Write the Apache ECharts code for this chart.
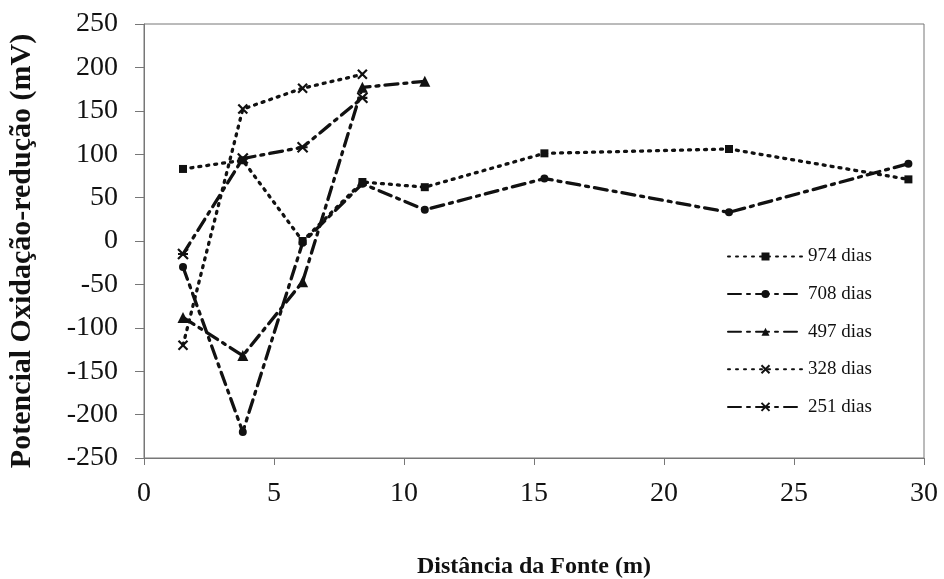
<!DOCTYPE html>
<html>
<head>
<meta charset="utf-8">
<script src="https://cdn.jsdelivr.net/npm/echarts@6/dist/echarts.min.js"></script>
<style>
  html, body { margin: 0; padding: 0; background: #fff; }
  #chart { width: 944px; height: 579px; }
</style>
</head>
<body>
<div id="chart"></div>
<script>
// Distance from the source (m) for each sampling well
const distances = [1.5, 3.8, 6.1, 8.4, 10.8, 15.4, 22.5, 29.4];

// Redox potential (mV) per campaign
const d974 = [83, 93, 0, 68, 62, 101, 106, 71];
const d708 = [-30, -220, -2, 66, 36, 72, 33, 89];
const d497 = [-88, -132, -47, 177, 184];
const d328 = [-120, 152, 176, 192];
const d251 = [-15, 95, 108, 165];

const seriesNames = ['974 dias', '708 dias', '497 dias', '328 dias', '251 dias'];
const yTicks = [-250, 250, 50];
const xTicks = [0, 30, 5];

const ink = '#111';
const serif = '"Liberation Serif", "Times New Roman", serif';

function pairs(values) {
  return values.map((v, i) => [distances[i], v]);
}

const dotted = [2, 6];
const dashDot = [13, 6, 3, 6];

const crossPath = 'path://M0,0L10,10M10,0L0,10';
const starPath = 'path://M0,0L10,10M10,0L0,10M0,5L10,5';

function lineSeries(name, values, symbol, size, dash, hollow) {
  return {
    name: name,
    type: 'line',
    data: pairs(values),
    symbol: symbol,
    symbolSize: size,
    showSymbol: true,
    lineStyle: { color: ink, width: 3.3, type: dash, cap: 'round' },
    itemStyle: hollow
      ? { color: 'rgba(0,0,0,0)', borderColor: ink, borderWidth: 2.2 }
      : { color: ink, borderColor: ink, borderWidth: 0 },
    emphasis: { disabled: true },
    animation: false,
    z: 3
  };
}

const chart = echarts.init(document.getElementById('chart'), null, { renderer: 'canvas' });

chart.setOption({
  backgroundColor: '#fff',
  animation: false,
  grid: {
    left: 144, right: 20, top: 24, bottom: 121,
    outerBoundsMode: 'none',
    containLabel: false,
    show: true, borderColor: '#777', borderWidth: 1
  },
  legend: {
    orient: 'vertical',
    left: 722,
    top: 242,
    itemWidth: 75,
    itemHeight: 10,
    itemGap: 18.6,
    data: seriesNames,
    textStyle: { fontFamily: serif, fontSize: 19, color: ink }
  },
  xAxis: {
    type: 'value',
    min: xTicks[0], max: xTicks[1], interval: xTicks[2],
    name: 'Distância da Fonte (m)',
    nameLocation: 'middle',
    nameGap: 97,
    nameTextStyle: { fontFamily: serif, fontSize: 24, fontWeight: 'bold', color: ink },
    axisLine: { show: true, onZero: false, lineStyle: { color: '#777', width: 1 } },
    axisTick: { show: true, inside: false, length: 7, lineStyle: { color: '#777' } },
    axisLabel: { fontFamily: serif, fontSize: 28, color: ink, margin: 22 },
    splitLine: { show: false }
  },
  yAxis: {
    type: 'value',
    min: yTicks[0], max: yTicks[1], interval: yTicks[2],
    name: 'Potencial Oxidação-redução (mV)',
    nameLocation: 'middle',
    nameGap: 107,
    nameTextStyle: {
      fontFamily: serif, fontSize: 30, fontWeight: 'bold', color: ink,
      padding: [0, 20, 0, 0]
    },
    axisLine: { show: true, onZero: false, lineStyle: { color: '#777', width: 1 } },
    axisTick: { show: true, inside: false, length: 9, lineStyle: { color: '#777' } },
    axisLabel: { fontFamily: serif, fontSize: 28, color: ink, margin: 26 },
    splitLine: { show: false }
  },
  series: [
    lineSeries(seriesNames[0], d974, 'rect', 8, dotted, false),
    lineSeries(seriesNames[1], d708, 'circle', 8, dashDot, false),
    lineSeries(seriesNames[2], d497, 'triangle', 11, dashDot, false),
    lineSeries(seriesNames[3], d328, crossPath, 9, dotted, true),
    lineSeries(seriesNames[4], d251, starPath, 10, dashDot, true)
  ]
});
</script>
</body>
</html>
